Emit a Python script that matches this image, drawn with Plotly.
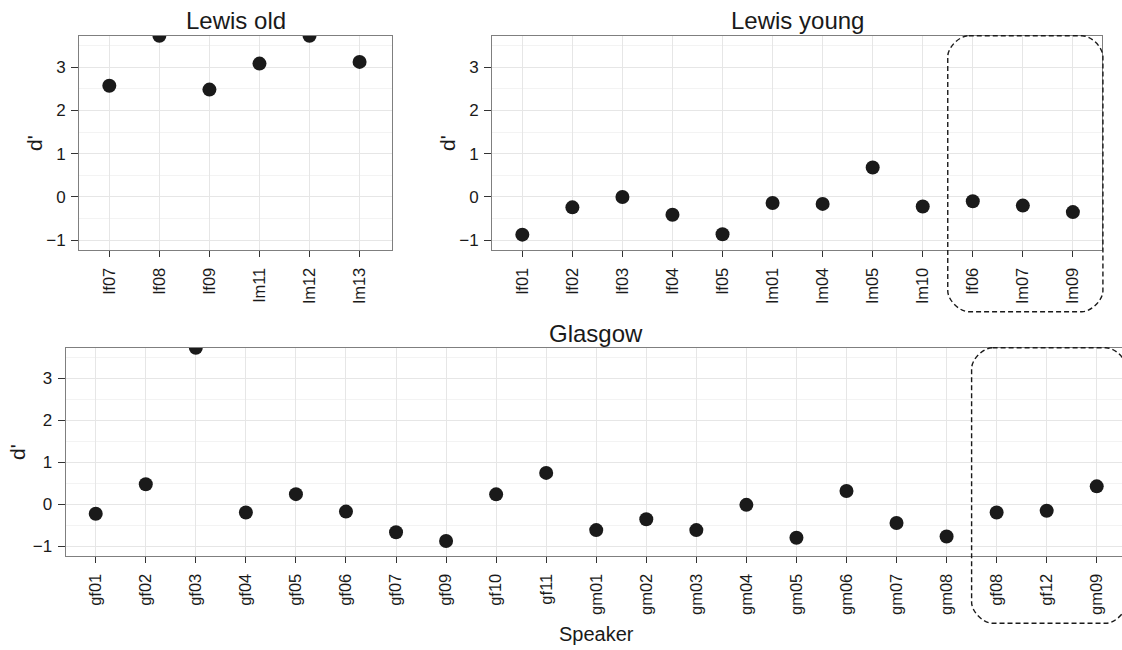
import math
import plotly.graph_objects as go

W, H = 1122, 650

# d' per speaker; math.inf marks a perfect score, drawn on the panel's top edge
old_speakers = ["lf07", "lf08", "lf09", "lm11", "lm12", "lm13"]
old_dprime = [2.57, math.inf, 2.48, 3.08, math.inf, 3.12]

young_speakers = ["lf01", "lf02", "lf03", "lf04", "lf05", "lm01", "lm04",
                  "lm05", "lm10", "lf06", "lm07", "lm09"]
young_dprime = [-0.87, -0.24, 0.0, -0.41, -0.86, -0.14, -0.16,
                0.68, -0.22, -0.10, -0.20, -0.35]

glasgow_speakers = ["gf01", "gf02", "gf03", "gf04", "gf05", "gf06", "gf07",
                    "gf09", "gf10", "gf11", "gm01", "gm02", "gm03", "gm04",
                    "gm05", "gm06", "gm07", "gm08", "gf08", "gf12", "gm09"]
glasgow_dprime = [-0.22, 0.48, math.inf, -0.19, 0.245, -0.17, -0.66,
                  -0.87, 0.24, 0.75, -0.61, -0.35, -0.61, -0.01,
                  -0.79, 0.32, -0.44, -0.76, -0.19, -0.15, 0.43]

# trailing speakers of each group that get the dashed outline
young_boxed = 3
glasgow_boxed = 3

y_ticks = [-1, 0, 1, 2, 3]
Y_LIMS = (-1.0, 3.5)

# ---- styling ----
FONT = "Liberation Sans, Arial, Helvetica, sans-serif"
INK = "#1a1a1a"
BORDER = "#7f7f7f"
GRID = "#e6e6e6"
GRID_MINOR = "#f3f3f3"
STEP = 50.05          # pixels per speaker slot

pad = 0.05 * (Y_LIMS[1] - Y_LIMS[0])
Y_RANGE = [Y_LIMS[0] - pad, Y_LIMS[1] + pad]

# panel rectangles in pixels: left, right, top, bottom
panels = {
    "old": (79.3, 392.3, 35.7, 250.0),
    "young": (492.3, 1102.3, 35.7, 250.0),
    "glasgow": (65.7, 1122.0, 347.7, 556.0),
}


def px_x(p):
    return p / W


def px_y(p):
    return 1 - p / H


fig = go.Figure()

groups = [
    ("old", old_speakers, old_dprime, "", ""),
    ("young", young_speakers, young_dprime, "2", "2"),
    ("glasgow", glasgow_speakers, glasgow_dprime, "3", "3"),
]

for key, names, vals, xs, ys in groups:
    left, right, top, bottom = panels[key]
    n = len(names)
    idx = list(range(n))
    x_lo = -0.6
    x_hi = x_lo + (right - left) / STEP
    y_plot = [min(v, Y_RANGE[1]) for v in vals]

    fig.add_trace(go.Scatter(
        x=idx, y=y_plot, mode="markers",
        marker=dict(size=14, color=INK, line=dict(width=0)),
        xaxis="x" + xs, yaxis="y" + ys,
        hovertext=names, showlegend=False, cliponaxis=True,
    ))

    full_box = key != "glasgow"
    xa = dict(
        domain=[px_x(left), min(px_x(right), 1.0)],
        range=[x_lo, x_hi],
        anchor="y" + ys,
        tickmode="array", tickvals=idx, ticktext=names,
        tickangle=-90,
        tickfont=dict(family=FONT, size=16.5, color=INK),
        ticks="outside", ticklen=6, tickwidth=1.3, tickcolor="#333333",
        ticklabelstandoff=4,
        showgrid=True, gridcolor=GRID, gridwidth=1,
        zeroline=False,
        showline=True, linecolor=BORDER, linewidth=1.3, mirror=True,
        fixedrange=True,
    )
    ya = dict(
        domain=[px_y(bottom), px_y(top)],
        range=Y_RANGE,
        anchor="x" + xs,
        tickmode="array", tickvals=y_ticks,
        tickfont=dict(family=FONT, size=17, color=INK),
        ticks="outside", ticklen=7, tickwidth=1.3, tickcolor="#333333",
        ticklabelstandoff=2,
        showgrid=True, gridcolor=GRID, gridwidth=1,
        minor=dict(tickmode="linear", tick0=-0.5, dtick=1.0,
                   showgrid=True, gridcolor=GRID_MINOR, gridwidth=1, ticks=""),
        zeroline=False,
        showline=True, linecolor=BORDER, linewidth=1.3, mirror=full_box,
        fixedrange=True,
    )
    fig.layout["xaxis" + xs] = xa
    fig.layout["yaxis" + ys] = ya

# ---- panel titles and axis titles ----
annotations = [
    dict(text="Lewis old", x=px_x((79.3 + 392.3) / 2), y=px_y(21)),
    dict(text="Lewis young", x=px_x((492.3 + 1102.3) / 2), y=px_y(21)),
    dict(text="Glasgow", x=px_x(596), y=px_y(333)),
]
for a in annotations:
    a.update(xref="paper", yref="paper", xanchor="center", yanchor="middle",
             showarrow=False, font=dict(family=FONT, size=24, color=INK))

for xc, yc in [(35, 143), (448, 143), (17, 452)]:
    annotations.append(dict(
        text="d'", x=px_x(xc), y=px_y(yc), xref="paper", yref="paper",
        xanchor="center", yanchor="middle", textangle=-90, showarrow=False,
        font=dict(family=FONT, size=21, color=INK)))

annotations.append(dict(
    text="Speaker", x=px_x(596), y=px_y(647), xref="paper", yref="paper",
    xanchor="center", yanchor="bottom", showarrow=False,
    font=dict(family=FONT, size=20, color=INK)))


# ---- dashed rounded outlines round the last speakers of a group ----
def rounded_box(key, n, n_boxed, bottom_px, r=21):
    left, right, top, bottom = panels[key]
    x0 = left + (n - n_boxed - 0.5 + 0.6) * STEP
    x1 = left + (n - 1 + 0.6 + 0.6) * STEP
    y0, y1 = top, bottom_px
    k = 0.45
    pts = [
        ("M", [(x0 + r, y0)]),
        ("L", [(x1 - r, y0)]),
        ("C", [(x1 - r + k * r, y0), (x1, y0 + r - k * r), (x1, y0 + r)]),
        ("L", [(x1, y1 - r)]),
        ("C", [(x1, y1 - r + k * r), (x1 - r + k * r, y1), (x1 - r, y1)]),
        ("L", [(x0 + r, y1)]),
        ("C", [(x0 + r - k * r, y1), (x0, y1 - r + k * r), (x0, y1 - r)]),
        ("L", [(x0, y0 + r)]),
        ("C", [(x0, y0 + r - k * r), (x0 + r - k * r, y0), (x0 + r, y0)]),
    ]
    parts = []
    for cmd, coords in pts:
        parts.append(cmd + " " + " ".join(f"{px_x(a):.5f},{px_y(b):.5f}" for a, b in coords))
    return dict(type="path", path=" ".join(parts) + " Z", xref="paper", yref="paper",
                line=dict(color=INK, width=1.4, dash="5px,3px"),
                fillcolor="rgba(0,0,0,0)", layer="above")


shapes = [
    rounded_box("young", len(young_speakers), young_boxed, 311.7),
    rounded_box("glasgow", len(glasgow_speakers), glasgow_boxed, 623.3),
]

fig.update_layout(
    width=W, height=H,
    margin=dict(l=0, r=0, t=0, b=0),
    paper_bgcolor="white", plot_bgcolor="white",
    font=dict(family=FONT, color=INK),
    annotations=annotations,
    shapes=shapes,
    showlegend=False,
)

fig.write_html("out.html")
